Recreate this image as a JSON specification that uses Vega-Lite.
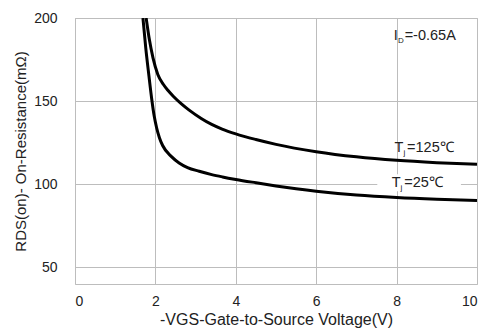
{
  "$schema": "https://vega.github.io/schema/vega-lite/v6.json",
  "width": 402,
  "height": 266,
  "autosize": {"type": "none"},
  "padding": {"left": 75, "top": 18, "right": 11, "bottom": 46},
  "background": "white",
  "config": {
    "font": "Liberation Sans",
    "view": {"stroke": "#bdbdbd", "strokeWidth": 1},
    "axis": {
      "grid": true, "gridColor": "#bdbdbd", "gridWidth": 1, "gridOpacity": 1,
      "domain": false, "ticks": false,
      "labelFont": "Liberation Sans", "labelFontSize": 14, "labelColor": "#222",
      "titleFont": "Liberation Sans", "titleFontWeight": "normal", "titleColor": "#222"
    }
  },
  "datasets": {
    "curves": [
      {"vgs": 1.69, "r": 200, "tj": "25"},
      {"vgs": 1.76, "r": 182, "tj": "25"},
      {"vgs": 1.84, "r": 165, "tj": "25"},
      {"vgs": 1.91, "r": 151, "tj": "25"},
      {"vgs": 1.97, "r": 141, "tj": "25"},
      {"vgs": 2.03, "r": 134, "tj": "25"},
      {"vgs": 2.10, "r": 128, "tj": "25"},
      {"vgs": 2.18, "r": 123.3, "tj": "25"},
      {"vgs": 2.40, "r": 116.6, "tj": "25"},
      {"vgs": 2.59, "r": 112.8, "tj": "25"},
      {"vgs": 2.80, "r": 110, "tj": "25"},
      {"vgs": 3.09, "r": 107.8, "tj": "25"},
      {"vgs": 3.40, "r": 105.8, "tj": "25"},
      {"vgs": 3.67, "r": 104.4, "tj": "25"},
      {"vgs": 4.0, "r": 102.9, "tj": "25"},
      {"vgs": 4.5, "r": 100.9, "tj": "25"},
      {"vgs": 5.0, "r": 99.0, "tj": "25"},
      {"vgs": 5.5, "r": 97.3, "tj": "25"},
      {"vgs": 6.0, "r": 95.8, "tj": "25"},
      {"vgs": 7.0, "r": 93.5, "tj": "25"},
      {"vgs": 8.0, "r": 92.0, "tj": "25"},
      {"vgs": 9.0, "r": 91.0, "tj": "25"},
      {"vgs": 10.0, "r": 90.3, "tj": "25"},
      {"vgs": 1.77, "r": 200, "tj": "125"},
      {"vgs": 1.85, "r": 187, "tj": "125"},
      {"vgs": 1.94, "r": 176, "tj": "125"},
      {"vgs": 2.06, "r": 166, "tj": "125"},
      {"vgs": 2.20, "r": 160, "tj": "125"},
      {"vgs": 2.31, "r": 156.5, "tj": "125"},
      {"vgs": 2.45, "r": 152.8, "tj": "125"},
      {"vgs": 2.64, "r": 148.5, "tj": "125"},
      {"vgs": 2.84, "r": 144.6, "tj": "125"},
      {"vgs": 3.14, "r": 139.6, "tj": "125"},
      {"vgs": 3.40, "r": 136, "tj": "125"},
      {"vgs": 3.66, "r": 133.2, "tj": "125"},
      {"vgs": 4.0, "r": 130.3, "tj": "125"},
      {"vgs": 4.5, "r": 126.9, "tj": "125"},
      {"vgs": 5.0, "r": 124.0, "tj": "125"},
      {"vgs": 6.0, "r": 119.6, "tj": "125"},
      {"vgs": 7.0, "r": 116.5, "tj": "125"},
      {"vgs": 8.0, "r": 114.4, "tj": "125"},
      {"vgs": 9.0, "r": 113.0, "tj": "125"},
      {"vgs": 10.0, "r": 112, "tj": "125"}
    ],
    "labels": [
      {"xm": 7.93, "xs": 8.035, "xr": 8.20, "y": 189.4, "main": "I", "sub": "D", "rest": "=-0.65A"},
      {"xm": 7.95, "xs": 8.17, "xr": 8.26, "y": 121.6, "main": "T", "sub": "j", "rest": "=125℃"},
      {"xm": 7.88, "xs": 8.10, "xr": 8.19, "y": 100.8, "main": "T", "sub": "j", "rest": "=25℃"}
    ],
    "masks": [
      {"x1": 7.52, "x2": 9.6, "y1": 95.8, "y2": 106}
    ]
  },
  "layer": [
    {
      "data": {"name": "curves"},
      "mark": {"type": "line", "color": "black", "strokeWidth": 3, "interpolate": "monotone", "clip": true},
      "encoding": {
        "x": {"field": "vgs", "type": "quantitative", "scale": {"domain": [0, 10]},
              "axis": {"values": [0, 2, 4, 6, 8, 10], "title": "-VGS-Gate-to-Source  Voltage(V)", "titleFontSize": 16, "labelPadding": 10, "titlePadding": 3}},
        "y": {"field": "r", "type": "quantitative", "scale": {"domain": [50, 200]},
              "axis": {"values": [50, 100, 150, 200], "title": "RDS(on)- On-Resistance(mΩ)", "titleFontSize": 15, "labelPadding": 18, "titlePadding": 5}},
        "detail": {"field": "tj"}
      }
    },
    {
      "data": {"name": "masks"},
      "mark": {"type": "rect", "color": "white"},
      "encoding": {
        "x": {"field": "x1", "type": "quantitative"},
        "x2": {"field": "x2"},
        "y": {"field": "y1", "type": "quantitative"},
        "y2": {"field": "y2"}
      }
    },
    {
      "data": {"name": "labels"},
      "mark": {"type": "text", "align": "left", "baseline": "middle", "fontSize": 14.5, "color": "#222"},
      "encoding": {
        "x": {"field": "xm", "type": "quantitative"},
        "y": {"field": "y", "type": "quantitative"},
        "text": {"field": "main"}
      }
    },
    {
      "data": {"name": "labels"},
      "mark": {"type": "text", "align": "left", "baseline": "middle", "fontSize": 8, "color": "#222", "dy": 5},
      "encoding": {
        "x": {"field": "xs", "type": "quantitative"},
        "y": {"field": "y", "type": "quantitative"},
        "text": {"field": "sub"}
      }
    },
    {
      "data": {"name": "labels"},
      "mark": {"type": "text", "align": "left", "baseline": "middle", "fontSize": 14.5, "color": "#222"},
      "encoding": {
        "x": {"field": "xr", "type": "quantitative"},
        "y": {"field": "y", "type": "quantitative"},
        "text": {"field": "rest"}
      }
    }
  ]
}
